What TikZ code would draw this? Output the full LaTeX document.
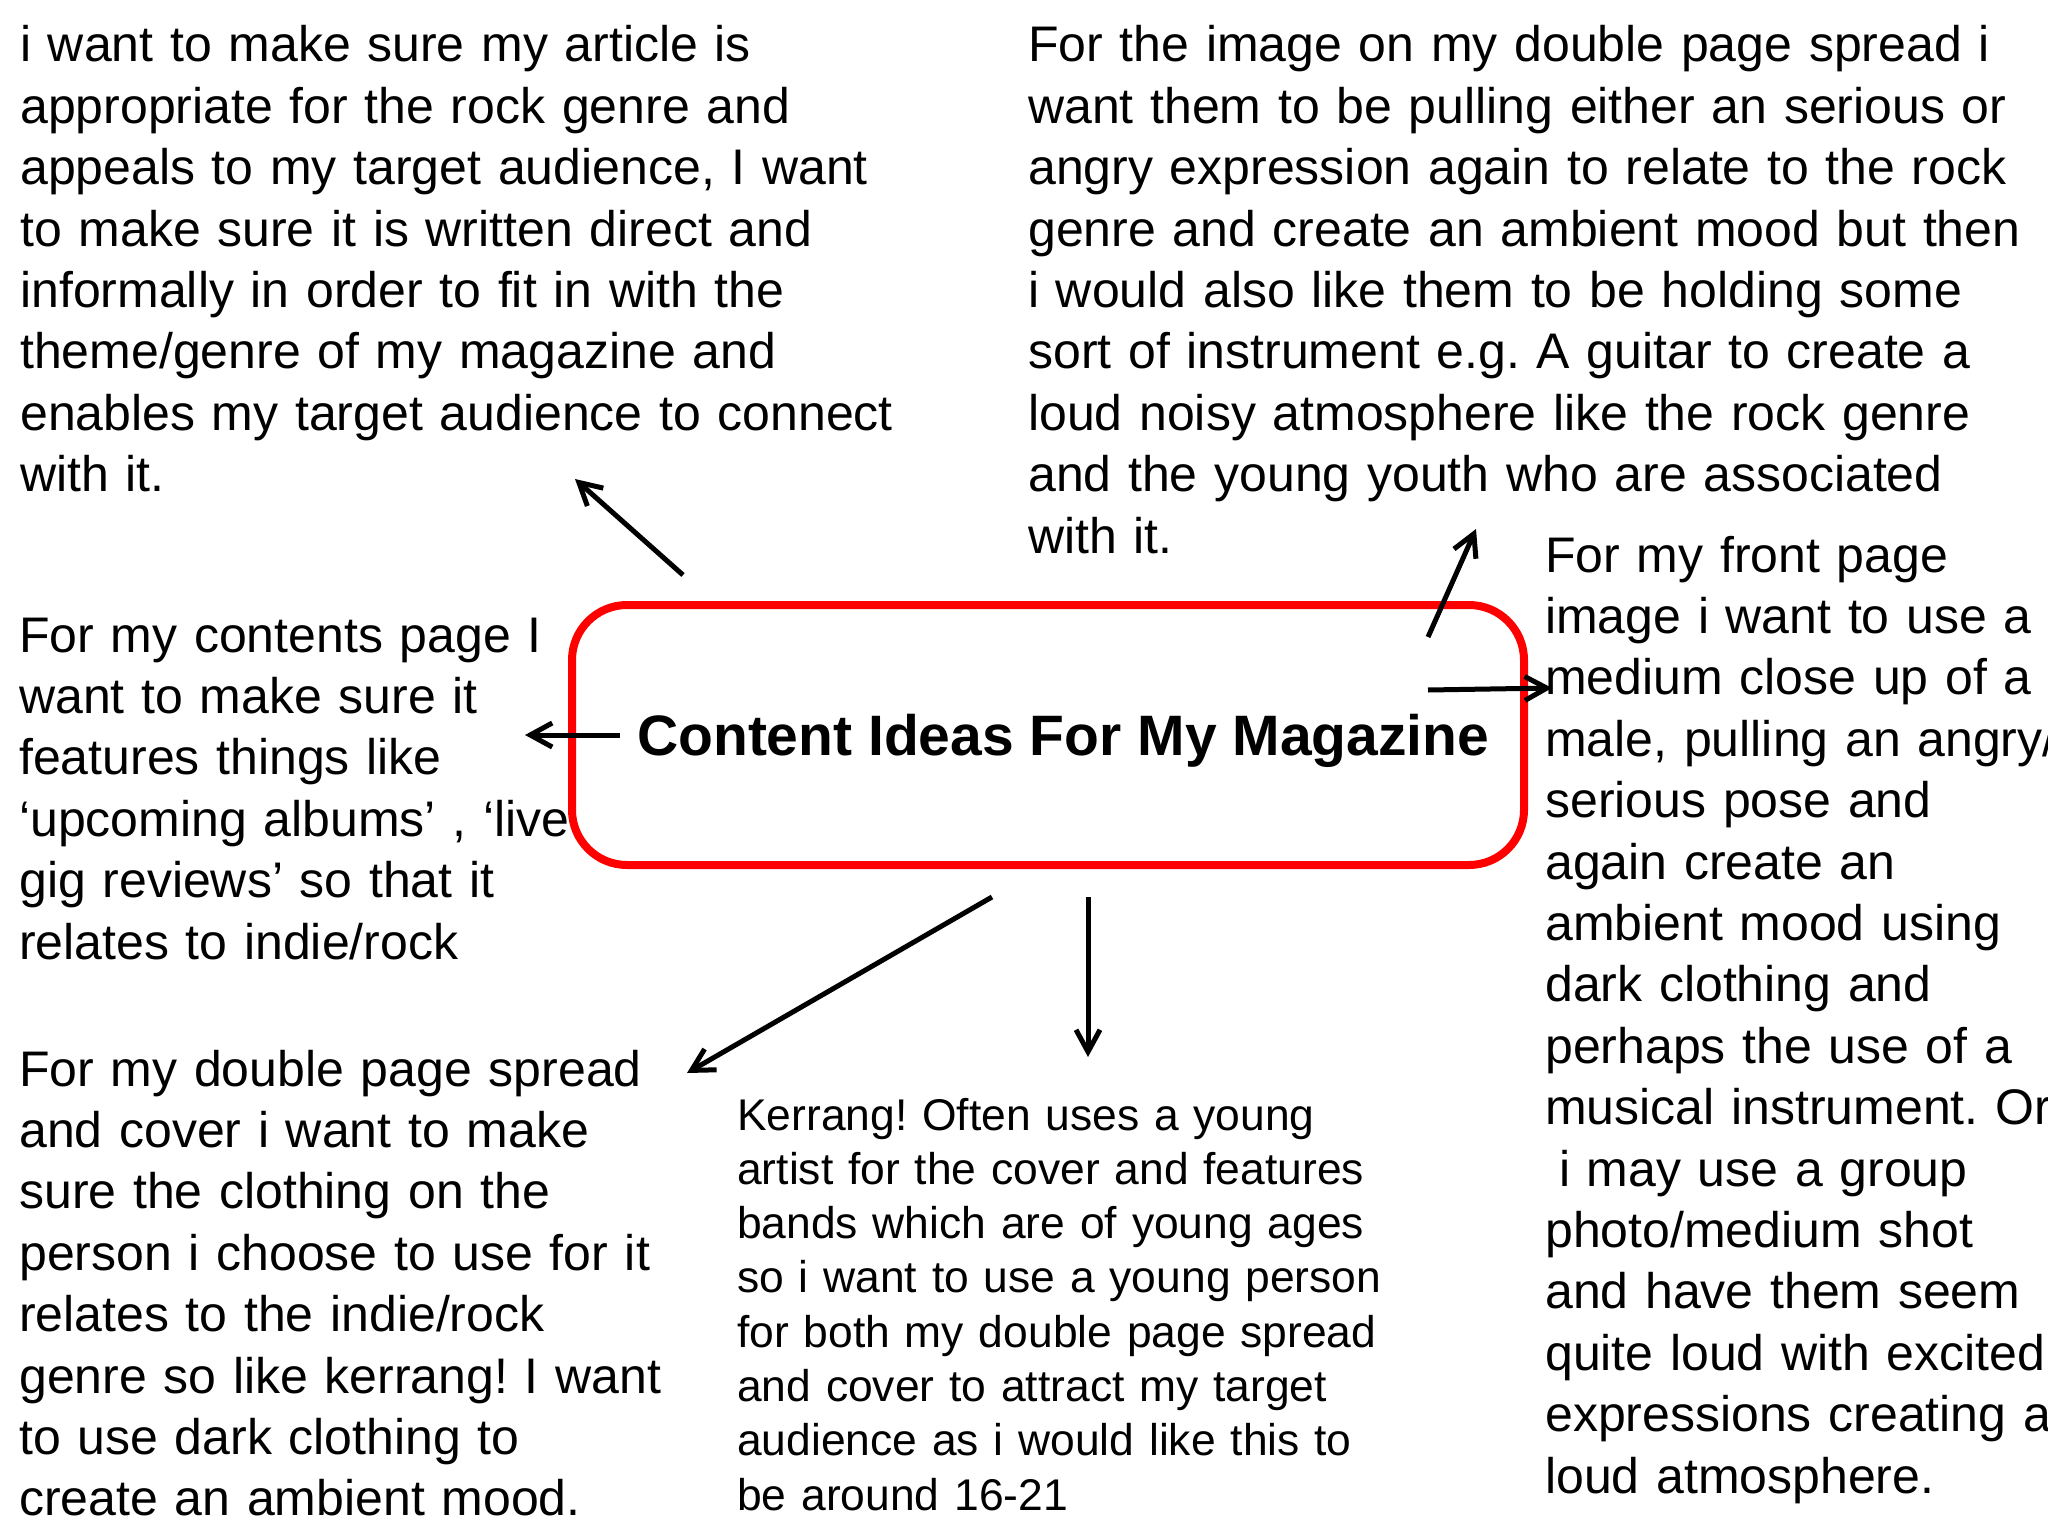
\documentclass[tikz,border=0pt]{standalone}
\usepackage{fontspec}
\setmainfont{Liberation Sans}
\usetikzlibrary{arrows.meta}
\frenchspacing
\begin{document}
\begin{tikzpicture}[x=1pt,y=-1pt,
  txt/.style={anchor=base west, inner sep=0pt, text width=1200pt, align=left, font=\fontsize{50}{61.4}\selectfont},
  small/.style={txt, font=\fontsize{44.4}{54.3}\selectfont},
  hubbox/.style={draw=red, line width=8pt, rounded corners=55pt, minimum width=952pt, minimum height=260pt, inner sep=0pt},
  ttl/.style={anchor=base west, inner sep=0pt, font=\fontsize{57}{68}\selectfont\bfseries},
  arr/.style={line width=5pt, -{Straight Barb[length=22pt, width=24pt]}}]
\useasboundingbox (0,0) rectangle (2048,1536);
\clip (0,0) rectangle (2048,1536);
\fill[white] (0,0) rectangle (2048,1536);

\node[txt] (b1) at (20,62) {i want to make sure my article is\\
appropriate for the rock genre and\\
appeals to my target audience, I want\\
to make sure it is written direct and\\
informally in order to fit in with the\\
theme/genre of my magazine and\\
enables my target audience to connect\\
with it.};

\node[txt] (b2) at (1028,62) {For the image on my double page spread i\\
want them to be pulling either an serious or\\
angry expression again to relate to the rock\\
genre and create an ambient mood but then\\
i would also like them to be holding some\\
sort of instrument e.g. A guitar to create a\\
loud noisy atmosphere like the rock genre\\
and the young youth who are associated\\
with it.};

\node[txt] (b3) at (19,652) {For my contents page I\\
want to make sure it\\
features things like\\
‘upcoming albums’ , ‘live\\
gig reviews’ so that it\\
relates to indie/rock};

\node[txt] (b4) at (19,1086) {For my double page spread\\
and cover i want to make\\
sure the clothing on the\\
person i choose to use for it\\
relates to the indie/rock\\
genre so like kerrang! I want\\
to use dark clothing to\\
create an ambient mood.};

\node[small] (b5) at (737,1130) {Kerrang! Often uses a young\\
artist for the cover and features\\
bands which are of young ages\\
so i want to use a young person\\
for both my double page spread\\
and cover to attract my target\\
audience as i would like this to\\
be around 16-21};

\node[txt] (b6) at (1545,572) {For my front page\\
image i want to use a\\
medium close up of a\\
male, pulling an angry/\\
serious pose and\\
again create an\\
ambient mood using\\
dark clothing and\\
perhaps the use of a\\
musical instrument. Or\\
\hspace*{0.278em}i may use a group\\
photo/medium shot\\
and have them seem\\
quite loud with excited\\
expressions creating a\\
loud atmosphere.};

\node[hubbox] (hub) at (1048,735) {};
\node[ttl] (title) at (637,755) {Content Ideas For My Magazine};

\coordinate (s1) at (683,575); \coordinate (e1) at (575,479);
\coordinate (s2) at (620,735); \coordinate (e2) at (525,735);
\coordinate (s3) at (1428,637); \coordinate (e3) at (1476,529);
\coordinate (s4) at (1428,690); \coordinate (e4) at (1552,688);
\coordinate (s5) at (992,897); \coordinate (e5) at (687,1073);
\coordinate (s6) at (1088,897); \coordinate (e6) at (1088,1057);

\draw[arr] (s1) -- (e1);
\draw[arr] (s2) -- (e2);
\draw[arr] (s3) -- (e3);
\draw[arr] (s4) -- (e4);
\draw[arr] (s5) -- (e5);
\draw[arr] (s6) -- (e6);
\end{tikzpicture}
\end{document}
